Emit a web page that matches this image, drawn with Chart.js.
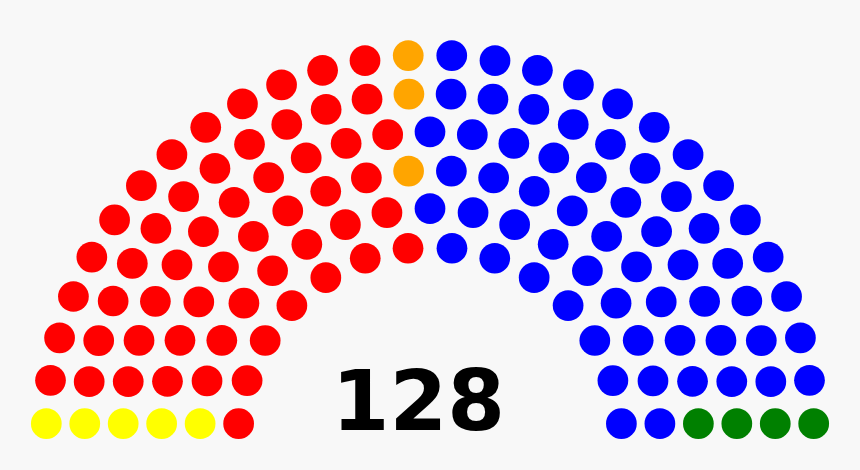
<!DOCTYPE html>
<html>
<head>
<meta charset="utf-8">
<script src="https://cdn.jsdelivr.net/npm/chart.js@4/dist/chart.umd.min.js"></script>
<style>
    html, body { margin: 0; padding: 0; background: #f8f8f8; }
    #wrap { width: 860px; height: 470px; }
</style>
</head>
<body>
<div id="wrap"><canvas id="seatChart" width="860" height="470"></canvas></div>
<script>
// 各党席位（按从左到右的顺序）
const parties = ['Party A', 'Party B', 'Party C', 'Party D', 'Party E'];
const seats = [5, 55, 3, 61, 4];
const colors = ['#ffff00', '#ff0000', '#ffa500', '#0000ff', '#008000'];
const totalLabel = '128';

// 每种行数可容纳的最大席位
const rowTotals = [3, 15, 33, 61, 95, 138, 189, 247, 313, 388];

// 画布与坐标的对应关系（1 个单位 = 230.4 像素，圆心在 430,439）
const UNIT_PX = 230.4;
const X_MIN = -430 / UNIT_PX, X_MAX = 430 / UNIT_PX;
const Y_MIN = -31 / UNIT_PX, Y_MAX = 439 / UNIT_PX;

document.addEventListener('DOMContentLoaded', () => {
    initSeatChart();
});

// 计算半圆议席的位置
function seatPositions(total) {
    const rows = rowTotals.findIndex(t => t >= total) + 1;
    const rad = 0.4 / rows;
    const list = [];

    const addRow = (J, R) => {
        if (J === 1) {
            list.push({ a: Math.PI / 2, x: 0, y: R });
            return;
        }
        const s = Math.sin(rad / R);
        for (let j = 0; j < J; j++) {
            const a = j * (Math.PI - 2 * s) / (J - 1) + s;
            list.push({ a: a, x: R * Math.cos(a), y: R * Math.sin(a) });
        }
    };

    for (let i = 1; i < rows; i++) {
        const J = Math.floor(total / rowTotals[rows - 1] * Math.PI /
            (2 * Math.asin(2 / (3 * rows + 4 * i - 2))));
        addRow(J, (3 * rows + 4 * i - 2) / (4 * rows));
    }
    // 剩下的席位放在最外一排
    addRow(total - list.length, (7 * rows - 2) / (4 * rows));

    list.sort((p, q) => (q.a - p.a) || (q.x - p.x) || (q.y - p.y));
    return { list, rad };
}

function initSeatChart() {
    const total = seats.reduce((s, v) => s + v, 0);
    const layout = seatPositions(total);

    let start = 0;
    const datasets = parties.map((name, k) => {
        const pts = layout.list.slice(start, start + seats[k]).map(p => ({ x: p.x, y: p.y }));
        start += seats[k];
        return {
            label: name,
            data: pts,
            backgroundColor: colors[k],
            borderWidth: 0,
            pointRadius: ctx => {
                const sx = ctx.chart.scales.x;
                return Math.abs(sx.getPixelForValue(layout.rad) - sx.getPixelForValue(0));
            },
            pointHoverRadius: 15,
            clip: false
        };
    });

    // 背景
    const background = {
        id: 'background',
        beforeDraw(chart) {
            const ctx = chart.ctx;
            ctx.save();
            ctx.fillStyle = '#f8f8f8';
            ctx.fillRect(0, 0, chart.width, chart.height);
            ctx.restore();
        }
    };

    // 中间的总席位数
    const centerLabel = {
        id: 'centerLabel',
        afterDatasetsDraw(chart) {
            const { ctx, scales } = chart;
            ctx.save();
            ctx.font = 'bold 83px "DejaVu Sans"';
            ctx.fillStyle = '#000000';
            ctx.textAlign = 'center';
            ctx.textBaseline = 'alphabetic';
            ctx.fillText(totalLabel, scales.x.getPixelForValue(-0.05), scales.y.getPixelForValue(0.04));
            ctx.restore();
        }
    };

    new Chart(document.getElementById('seatChart'), {
        type: 'scatter',
        data: { datasets },
        options: {
            responsive: false,
            animation: false,
            layout: { padding: 0 },
            plugins: {
                legend: { display: false },
                tooltip: { enabled: false }
            },
            scales: {
                x: { type: 'linear', min: X_MIN, max: X_MAX, display: false },
                y: { type: 'linear', min: Y_MIN, max: Y_MAX, display: false }
            }
        },
        plugins: [background, centerLabel]
    });
}
</script>
</body>
</html>
